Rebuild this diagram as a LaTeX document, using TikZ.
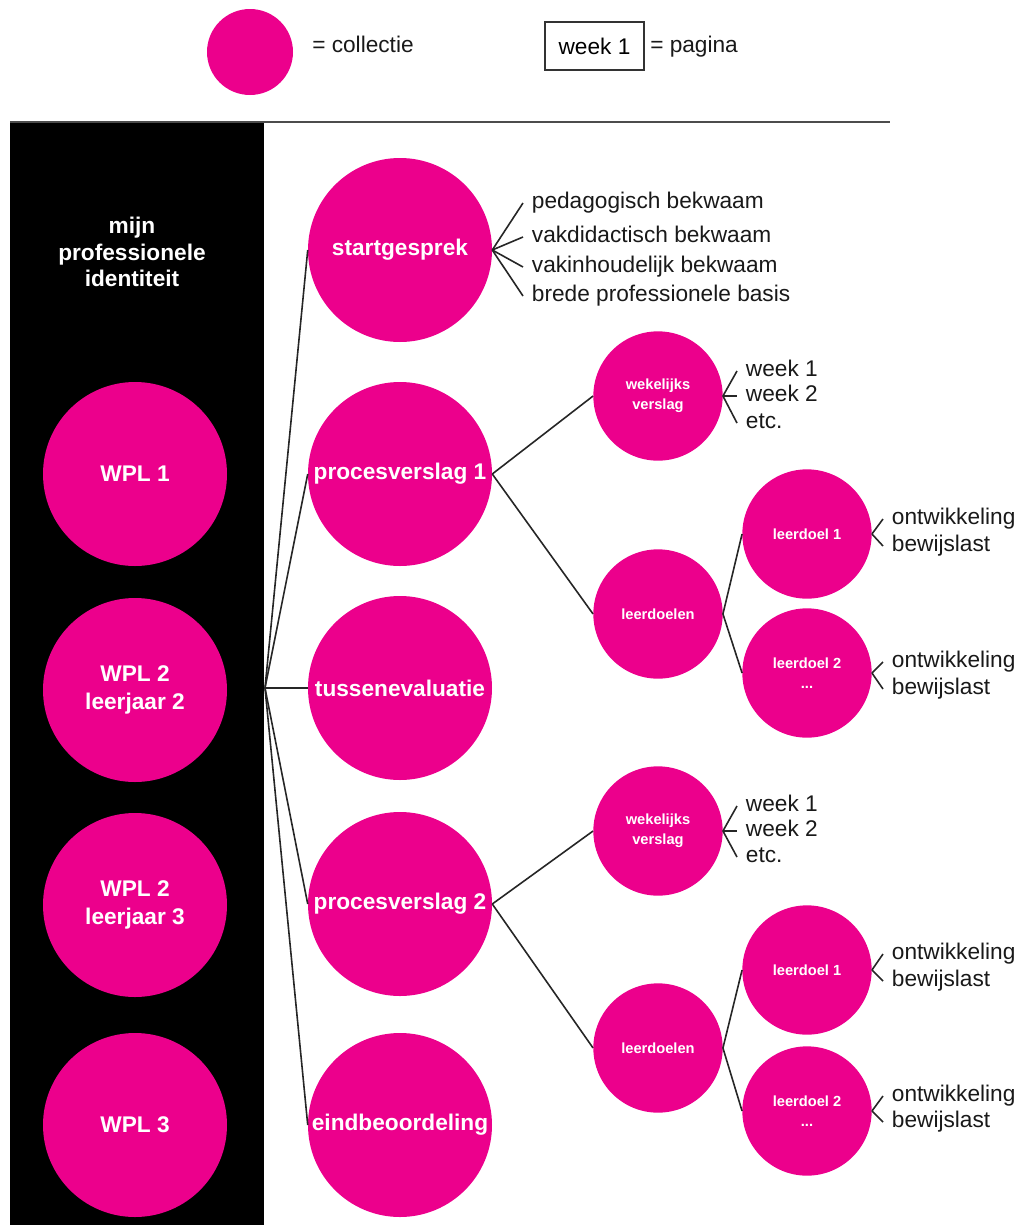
\documentclass[tikz,border=0pt]{standalone}
\usepackage{fontspec}
\setmainfont{Liberation Sans}
\usepackage{xcolor}
\usepackage{tikz}
\definecolor{collpink}{RGB}{236,0,140}

\begin{document}
\begin{tikzpicture}[x=0.75pt,y=0.75pt,yscale=-1,xscale=1,
  coll/.style={circle,fill=collpink,inner sep=0pt,minimum size=138pt,text=white,align=center,font=\fontsize{17}{20.5}\selectfont\bfseries},
  subcoll/.style={circle,fill=collpink,inner sep=0pt,minimum size=97pt,text=white,align=center,font=\fontsize{11}{15}\selectfont\bfseries},
  item/.style={anchor=west,inner xsep=6.5pt,inner ysep=0pt,text height=12pt,text depth=3.5pt,text=black!90,font=\fontsize{17}{20}\selectfont},
  link/.style={draw=black!85,line width=1.2pt}]
%set diagram left start at 0, and has height of 1225
\useasboundingbox (0,0) rectangle (1019,1225);
%Shape: Rectangle [black panel]
\fill[black] (10,122) rectangle (264,1225);
%Straight Lines [top rule]
\draw[black!70,line width=1.5pt] (10,121.5) -- (890,121.5);

% Legend
\node[coll,minimum size=64.5pt] (legcoll) at (250,52) {};
\node[item,inner xsep=0pt] (legcolltxt) at (312,47) {= collectie};
\node[draw=black!80,line width=1.2pt,minimum width=74pt,minimum height=36pt,font=\fontsize{17}{20}\selectfont] (legpage) at (594.5,46) {week 1};
\node[item,inner xsep=0pt] (legpagetxt) at (650,47) {= pagina};

% Text Node
\node[text=white,align=center,font=\fontsize{17}{20}\selectfont\bfseries] (ident) at (132,252) {mijn\\professionele\\identiteit};

%Shape: Circle [WPL]
\node[coll] (wpl1) at (135,474) {WPL 1};
\node[coll] (wpl2) at (135,690) {WPL 2\\leerjaar 2};
\node[coll] (wpl3) at (135,905) {WPL 2\\leerjaar 3};
\node[coll] (wpl4) at (135,1125) {WPL 3};

%Shape: Circle [collecties]
\node[coll] (sg) at (400,250) {startgesprek};
\node[coll] (pv1) at (400,474) {procesverslag 1};
\node[coll] (te) at (400,688) {tussenevaluatie};
\node[coll] (pv2) at (400,904) {procesverslag 2};
\node[coll] (eb) at (400,1125) {eindbeoordeling};

%Straight Lines [fan]
\coordinate (hub) at (265,688);
\draw[link] (hub) -- (sg.west);
\draw[link] (hub) -- (pv1.west);
\draw[link] (hub) -- (te.west);
\draw[link] (hub) -- (pv2.west);
\draw[link] (hub) -- (eb.west);

% Text Node [startgesprek]
\node[item] (bk1) at (523,203) {pedagogisch bekwaam};
\node[item] (bk2) at (523,237) {vakdidactisch bekwaam};
\node[item] (bk3) at (523,267) {vakinhoudelijk bekwaam};
\node[item] (bk4) at (523,296) {brede professionele basis};
\draw[link] (sg.east) -- (bk1.west);
\draw[link] (sg.east) -- (bk2.west);
\draw[link] (sg.east) -- (bk3.west);
\draw[link] (sg.east) -- (bk4.west);

%Shape: Circle [procesverslag 1]
\node[subcoll] (wv1) at (658,396) {wekelijks\\verslag};
\node[subcoll] (ld1) at (658,614) {leerdoelen};
\node[subcoll] (lda1) at (807,534) {leerdoel 1};
\node[subcoll] (ldb1) at (807,673) {leerdoel 2\\...};
\draw[link] (pv1.east) -- (wv1.west);
\draw[link] (pv1.east) -- (ld1.west);
\draw[link] (ld1.east) -- (lda1.west);
\draw[link] (ld1.east) -- (ldb1.west);

% Text Node
\node[item] (wk11) at (737,371) {week 1};
\node[item] (wk12) at (737,396) {week 2};
\node[item] (wk13) at (737,423) {etc.};
\draw[link] (wv1.east) -- (wk11.west);
\draw[link] (wv1.east) -- (wk12.west);
\draw[link] (wv1.east) -- (wk13.west);
\node[item] (ona1) at (883,519) {ontwikkeling};
\node[item] (bwa1) at (883,546) {bewijslast};
\draw[link] (lda1.east) -- (ona1.west);
\draw[link] (lda1.east) -- (bwa1.west);
\node[item] (onb1) at (883,662) {ontwikkeling};
\node[item] (bwb1) at (883,689) {bewijslast};
\draw[link] (ldb1.east) -- (onb1.west);
\draw[link] (ldb1.east) -- (bwb1.west);

%Shape: Circle [procesverslag 2]
\node[subcoll] (wv2) at (658,831) {wekelijks\\verslag};
\node[subcoll] (ld2) at (658,1048) {leerdoelen};
\node[subcoll] (lda2) at (807,970) {leerdoel 1};
\node[subcoll] (ldb2) at (807,1111) {leerdoel 2\\...};
\draw[link] (pv2.east) -- (wv2.west);
\draw[link] (pv2.east) -- (ld2.west);
\draw[link] (ld2.east) -- (lda2.west);
\draw[link] (ld2.east) -- (ldb2.west);

% Text Node
\node[item] (wk21) at (737,806) {week 1};
\node[item] (wk22) at (737,831) {week 2};
\node[item] (wk23) at (737,857) {etc.};
\draw[link] (wv2.east) -- (wk21.west);
\draw[link] (wv2.east) -- (wk22.west);
\draw[link] (wv2.east) -- (wk23.west);
\node[item] (ona2) at (883,954) {ontwikkeling};
\node[item] (bwa2) at (883,981) {bewijslast};
\draw[link] (lda2.east) -- (ona2.west);
\draw[link] (lda2.east) -- (bwa2.west);
\node[item] (onb2) at (883,1096) {ontwikkeling};
\node[item] (bwb2) at (883,1122) {bewijslast};
\draw[link] (ldb2.east) -- (onb2.west);
\draw[link] (ldb2.east) -- (bwb2.west);
\end{tikzpicture}
\end{document}
